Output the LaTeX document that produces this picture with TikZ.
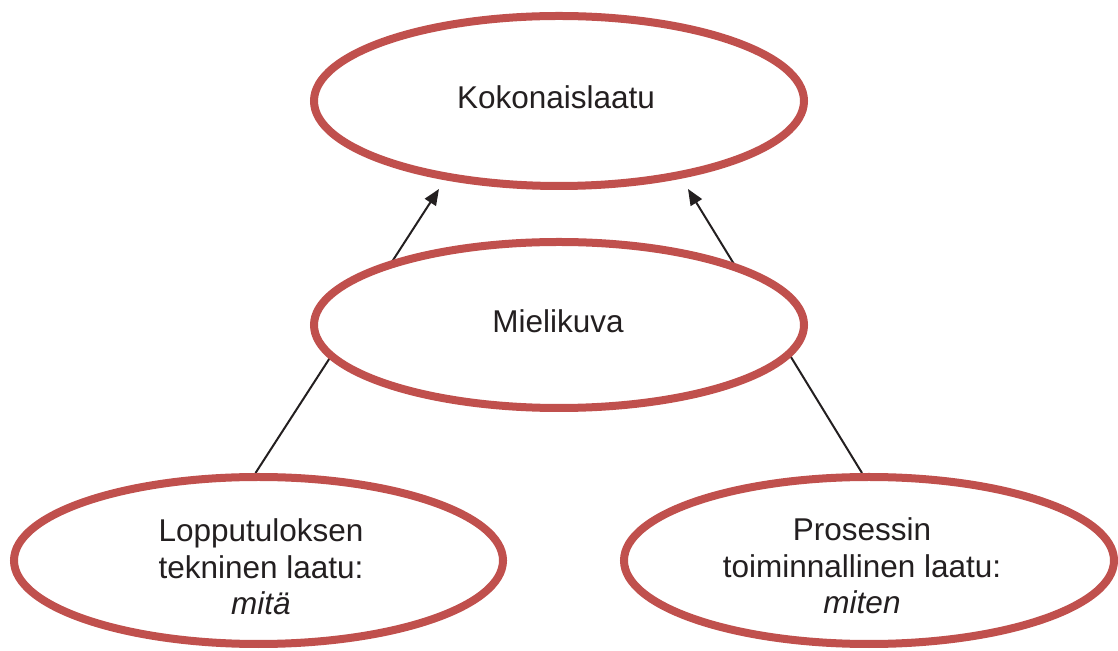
\documentclass[tikz,border=0pt]{standalone}
\usepackage{fontspec}
\setmainfont{Liberation Sans}
\usetikzlibrary{shapes.geometric,arrows.meta}
\definecolor{ered}{HTML}{C0504D}
\definecolor{ink}{HTML}{231F20}
\tikzset{
  oval/.style={ellipse, draw=ered, line width=8pt, fill=white, inner sep=0pt, outer sep=0pt,
    minimum width=490pt, minimum height=168pt},
  txt/.style={anchor=base, inner sep=0pt, text=ink, font=\fontsize{31.5}{37}\selectfont},
  conn/.style={draw=ink, line width=2pt},
  arr/.style={conn, -{Triangle[length=16pt,width=13pt]}}
}
\begin{document}
\begin{tikzpicture}[x=1pt,y=1pt]
\useasboundingbox (0,0) rectangle (1118,650);
% node positions (no drawing yet)
\coordinate (tipL) at (439,461);
\coordinate (tipR) at (688,461);
\path (258.5,89.5) coordinate (BLc) (869,89.5) coordinate (BRc);
% connectors first, so ellipses cover their ends
\draw[arr] ([xshift=-3pt,yshift=4pt]BLc |- 0,173) -- (tipL);
\draw[arr] ([xshift=-7pt,yshift=4pt]BRc |- 0,173) -- (tipR);
% ellipses
\node[oval, minimum height=170pt] (top) at (559,549) {};
\node[oval, minimum height=166pt] (mid) at (559,325) {};
\node[oval, minimum width=489pt, minimum height=167pt] (BL) at (BLc) {};
\node[oval, minimum height=167pt] (BR) at (BRc) {};
% texts
\node[txt] (ttop) at (556,541) {Kokonaislaatu};
\node[txt] (tmid) at (558,317) {Mielikuva};
\node[txt] (bl1) at (261,108) {Lopputuloksen};
\node[txt] (bl2) at (261,71) {tekninen laatu:};
\node[txt] (bl3) at (261,35) {\itshape mitä};
\node[txt] (br1) at (862,109) {Prosessin};
\node[txt] (br2) at (862,72) {toiminnallinen laatu:};
\node[txt] (br3) at (862,36) {\itshape miten};
\end{tikzpicture}
\end{document}
